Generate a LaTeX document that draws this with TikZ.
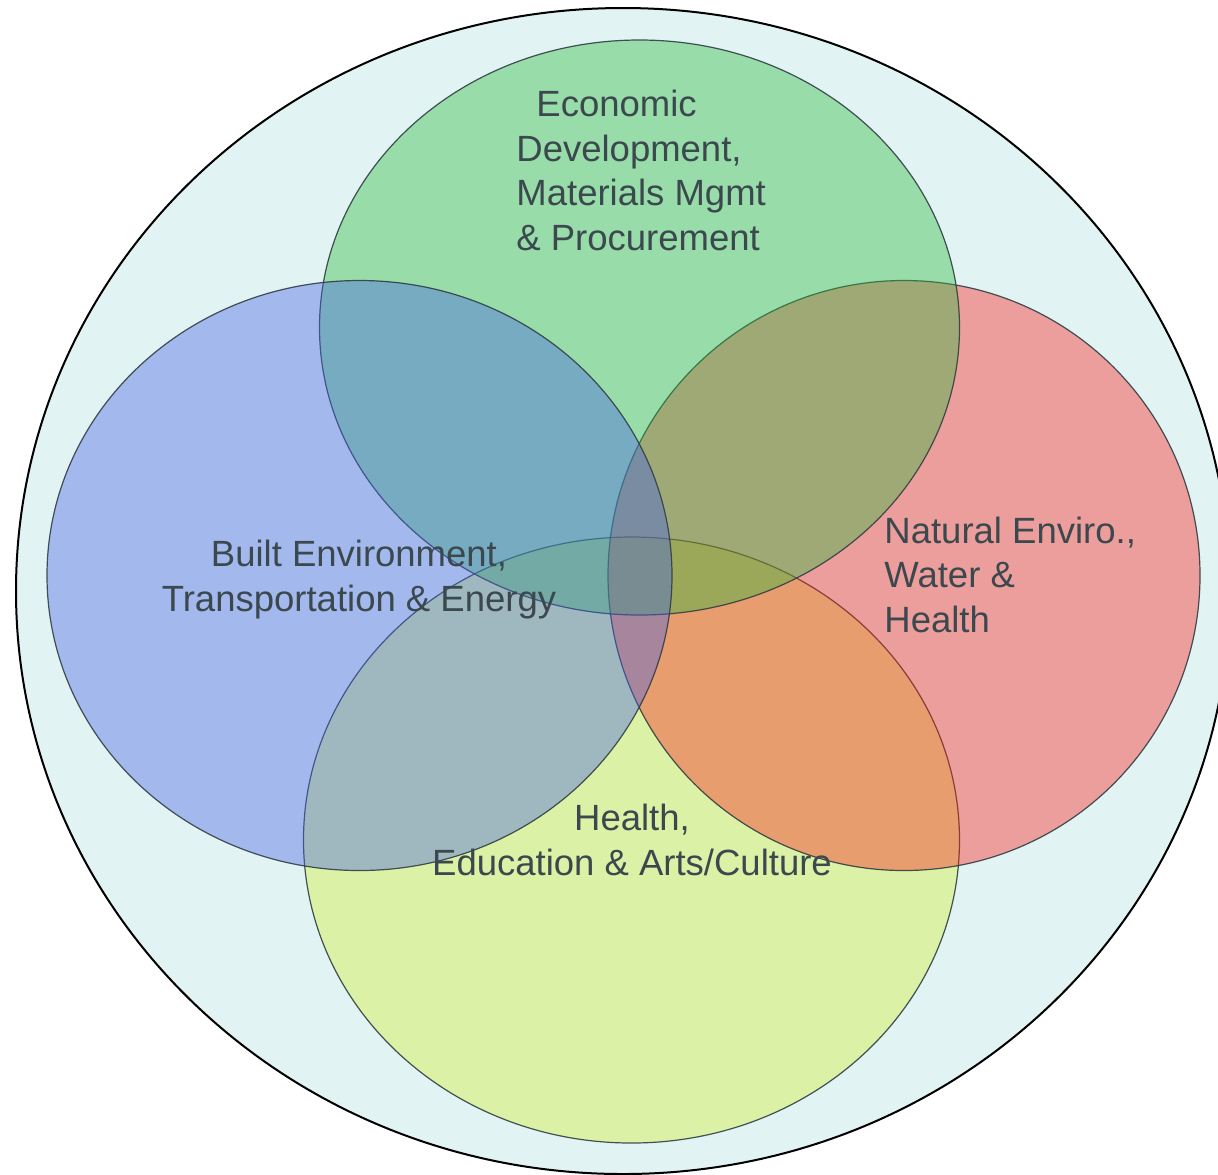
\documentclass[tikz,border=0pt]{standalone}
\usepackage{fontspec}
\setmainfont{Liberation Sans}
\definecolor{bgcyan}{RGB}{226,243,244}
\definecolor{cgreen}{RGB}{41,186,59}
\definecolor{cblue}{RGB}{69,98,229}
\definecolor{cred}{RGB}{251,31,24}
\definecolor{cyellow}{RGB}{209,241,49}
\definecolor{edgegray}{RGB}{50,62,68}
\definecolor{textgray}{RGB}{59,72,78}
\begin{document}
\begin{tikzpicture}[x=0.5pt,y=-0.5pt,
  blob/.style={draw=edgegray,line width=0.6pt,fill opacity=0.4,draw opacity=0.9},
  label/.style={inner sep=0pt,text=textgray,font=\fontsize{18.25pt}{22.25pt}\selectfont}]
\useasboundingbox (0,0) rectangle (1218,1174);
\clip (0,0) rectangle (1218,1174);
\fill[white] (0,0) rectangle (1218,1174);
% outer ellipse
\draw[fill=bgcyan,draw=black,line width=1pt] (623,591) ellipse [x radius=607, y radius=583];
% four overlapping ellipses (bottom to top: yellow, red, green, blue)
\path[blob,fill=cyellow] (631.5,840)   ellipse [x radius=328, y radius=303];
\path[blob,fill=cred]    (904,575.5)   ellipse [x radius=296, y radius=295];
\path[blob,fill=cgreen]  (639.5,327.5) ellipse [x radius=320, y radius=287.5];
\path[blob,fill=cblue]   (359.5,575.5) ellipse [x radius=312.5, y radius=295];
% labels (base anchor = baseline of the last line)
\node[label,anchor=base west,align=left] (econ) at (516,250)
  {\hspace*{10pt}Economic\\Development,\\Materials Mgmt\\\& Procurement};
\node[label,anchor=base west,align=left] (natural) at (884,632)
  {Natural Enviro.,\\Water \&\\Health};
\node[label,anchor=base,align=center] (built) at (359,611)
  {Built Environment,\\Transportation \& Energy};
\node[label,anchor=base,align=center] (health) at (632,875)
  {Health,\\Education \& Arts/Culture};
\end{tikzpicture}
\end{document}
